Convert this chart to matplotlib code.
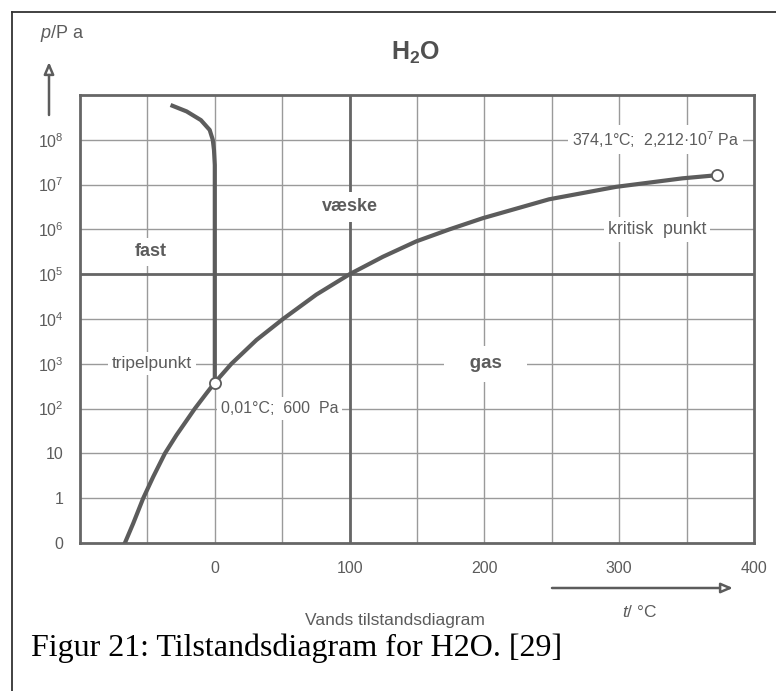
import matplotlib
matplotlib.use('Agg')
import matplotlib.pyplot as plt
from matplotlib.lines import Line2D

plt.rcParams['font.family'] = ['Liberation Sans', 'DejaVu Sans']
plt.rcParams['mathtext.fontset'] = 'custom'
plt.rcParams['mathtext.rm'] = 'Liberation Sans'
plt.rcParams['mathtext.it'] = 'Liberation Sans:italic'
plt.rcParams['mathtext.bf'] = 'Liberation Sans:bold'

# data: temperature in C, pressure in Pa
# (the bottom grid row labelled "0" sits at 0.1 Pa on the log scale)
vap_t = [-66.7, -60.5, -53.1, -45.7, -37, -28.4, -14.8, -6.2, 0, 12.3, 30.9,
         50.6, 75.3, 100, 124.7, 149.4, 174, 198.8, 248, 297.6, 346.9, 372.4]
vap_p = [0.1, 0.275, 1, 3.0, 10, 25.7, 100, 219, 380, 1e3, 3.4e3,
         1e4, 3.5e4, 1e5, 2.45e5, 5.4e5, 1e6, 1.78e6, 4.7e6, 8.9e6, 1.38e7, 1.62e7]

melt_t = [0, 0, -0.6, -1.5, -3.8, -10.3, -20.9, -31.4]
melt_p = [380, 2.75e7, 5.9e7, 1e8, 1.66e8, 2.75e8, 4.3e8, 5.75e8]

triple = (0, 380)
critical = (372.4, 1.62e7)

xticks = [0, 100, 200, 300, 400]
yticks = [0.1, 1, 10, 1e2, 1e3, 1e4, 1e5, 1e6, 1e7, 1e8]
ylabels = ['0', '1', '10'] + [r'$\mathregular{10^%d}$' % k for k in range(2, 9)]

grey = '#5c5c5c'
gridc = '#9a9a9a'

W, H = 776, 691
fig = plt.figure(figsize=(W / 100, H / 100), dpi=100)
ax = fig.add_axes([80 / W, 1 - 543 / H, 674 / W, 448 / H])
ax.set_yscale('log')
ax.set_xlim(-100, 400)
ax.set_ylim(0.1, 1e9)

# grid
for t in range(-50, 400, 50):
    ax.axvline(t, color=gridc, lw=1, zorder=1)
for p in yticks[1:]:
    ax.axhline(p, color=gridc, lw=1, zorder=1)
ax.axvline(100, color='#666666', lw=2, zorder=1.5)
ax.axhline(1e5, color='#666666', lw=2, zorder=1.5)

ax.set_xticks(xticks)
ax.set_xticklabels([str(v) for v in xticks])
ax.set_yticks(yticks)
ax.set_yticklabels(ylabels)
ax.minorticks_off()
ax.tick_params(length=0, labelsize=11.5, labelcolor=grey)
ax.tick_params(axis='x', pad=13)
ax.tick_params(axis='y', pad=12)
for s in ax.spines.values():
    s.set_color('#666666')
    s.set_linewidth(2)

# phase boundaries
ax.plot(vap_t, vap_p, color=grey, lw=3, zorder=3, solid_joinstyle='round')
ax.plot(melt_t, melt_p, color=grey, lw=3, zorder=3, solid_joinstyle='round')
for pt in (triple, critical):
    ax.plot(pt[0], pt[1], 'o', ms=8, mfc='white', mec=grey, mew=1.3, zorder=4)


def label(x, y, s, size=12, pad=3, **kw):
    ax.text(x, y, s, color=grey, fontsize=size, ha='center', va='center', zorder=5,
            bbox=dict(facecolor='white', edgecolor='none', pad=pad), **kw)


label(-46.7, 1e3, 'tripelpunkt', 12.5)
label(48, 1e2, '0,01°C;  600  Pa', 11.5)
label(327, 1e8, r'374,1°C;  2,212·$\mathregular{10^7}$ Pa', 11.5)
label(328, 1e6, 'kritisk  punkt', 12.8)
label(201, 1e3, '   gas   ', 13.5, pad=7, fontweight='bold')
label(-47.4, 10 ** 5.5, 'fast', 13, pad=4, fontweight='bold')
label(100, 10 ** 6.5, 'væske', 13, pad=5, fontweight='bold')

# outside texts
fig.text(416 / W, 1 - 53 / H, r'$\mathbf{H_2O}$', fontsize=18, color='#505050',
         ha='center', va='center')
fig.text(40 / W, 1 - 33 / H, r'$\mathit{p}$/P a', fontsize=13, color=grey,
         ha='left', va='center')
fig.text(640 / W, 1 - 612 / H, r'$\mathit{t}$/ °C', fontsize=12.5, color=grey,
         ha='center', va='center')
fig.text(395 / W, 1 - 620 / H, 'Vands tilstandsdiagram', fontsize=12.5, color=grey,
         ha='center', va='center')
fig.text(31 / W, 1 - 648 / H, 'Figur 21: Tilstandsdiagram for H2O. [29]',
         fontsize=23, family='Liberation Serif', color='black',
         ha='left', va='center')

arrow = dict(arrowstyle='-|>,head_length=0.7,head_width=0.3', color=grey,
             fc='white', lw=1.8, shrinkA=0, shrinkB=0)
ax.annotate('', xy=(49, H - 62), xytext=(49, H - 115),
            xycoords='figure pixels', textcoords='figure pixels', arrowprops=arrow)
ax.annotate('', xy=(733, H - 588), xytext=(552, H - 588),
            xycoords='figure pixels', textcoords='figure pixels', arrowprops=arrow)

# page frame
fig.add_artist(Line2D([12 / W, 1], [1 - 12 / H, 1 - 12 / H], color='#333333', lw=1.3))
fig.add_artist(Line2D([12 / W, 12 / W], [0, 1 - 12 / H], color='#333333', lw=1.3))

fig.savefig('out.png', dpi=100)
